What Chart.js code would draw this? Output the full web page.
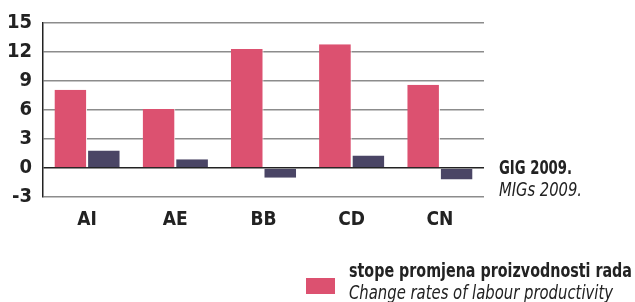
<!DOCTYPE html>
<html>
<head>
<meta charset="utf-8">
<script src="https://cdn.jsdelivr.net/npm/chart.js@4"></script>
<style>
  html, body { margin: 0; padding: 0; background: #fff; }
  #wrap { position: relative; width: 635px; height: 302px; }
</style>
</head>
<body>
<div id="wrap"><canvas id="prodChart" width="635" height="302"></canvas></div>
<script>
// data
const categories = ['AI', 'AE', 'BB', 'CD', 'CN'];
const gigValues = [8.1, 6.1, 12.3, 12.8, 8.6];     // GIG 2009.
const migValues = [1.8, 0.9, -1.0, 1.3, -1.2];     // MIGs 2009.
const yTicks = [-3, 0, 3, 6, 9, 12, 15];

const PINK = '#dc5170';
const NAVY = '#4a4565';
const FONT = '"DejaVu Sans Condensed", "Liberation Sans", sans-serif';

// extra labels: series names next to zero line and the bottom legend
// (maxWidth squeezes the text to the narrow face of the original)
const labelsPlugin = {
    id: 'labels',
    afterDraw(chart) {
        const ctx = chart.ctx;
        const y0 = chart.scales.y.getPixelForValue(0);
        ctx.save();
        ctx.fillStyle = '#222';
        ctx.textBaseline = 'middle';
        ctx.textAlign = 'left';
        ctx.font = 'bold 19px ' + FONT;
        ctx.fillText('GIG 2009.', 499, y0 + 1, 73);
        ctx.font = 'italic 19px ' + FONT;
        ctx.fillText('MIGs 2009.', 499, y0 + 23, 83);

        // legend
        ctx.fillStyle = PINK;
        ctx.fillRect(306, 278, 29, 16);
        ctx.fillStyle = '#222';
        ctx.font = 'bold 19px ' + FONT;
        ctx.fillText('stope promjena proizvodnosti rada', 349, 272, 283);
        ctx.font = 'italic 19px ' + FONT;
        ctx.fillText('Change rates of labour productivity', 349, 294, 264);
        ctx.restore();
    }
};

new Chart(document.getElementById('prodChart'), {
    type: 'bar',
    data: {
        labels: categories,
        datasets: [
            { label: 'GIG 2009.', data: gigValues, backgroundColor: PINK, borderColor: '#fff', borderWidth: { right: 1 }, borderSkipped: false },
            { label: 'MIGs 2009.', data: migValues, backgroundColor: NAVY, borderColor: '#fff', borderWidth: { left: 1 }, borderSkipped: false }
        ]
    },
    options: {
        responsive: false,
        animation: false,
        layout: { padding: { top: 23, right: 151, bottom: 0, left: 0 } },
        datasets: { bar: { categoryPercentage: 0.74, barPercentage: 1.0 } },
        plugins: {
            legend: { display: false },
            tooltip: { enabled: false }
        },
        scales: {
            x: {
                grid: { display: false, drawTicks: false },
                border: { display: false },
                ticks: {
                    color: '#222',
                    font: { family: FONT, size: 19, weight: 'bold' },
                    padding: 12
                },
                afterFit(scale) { scale.height = 105; }
            },
            y: {
                min: -3,
                max: 15,
                afterBuildTicks(scale) { scale.ticks = yTicks.map(v => ({ value: v })); },
                grid: {
                    drawTicks: false,
                    lineWidth: 1.5,
                    color: ctx => ctx.tick && ctx.tick.value === 0 ? '#222' : '#8c8c8c'
                },
                border: { display: true, color: '#222', width: 1.5 },
                ticks: {
                    color: '#222',
                    font: { family: FONT, size: 20, weight: 'bold' },
                    padding: 11
                },
                afterFit(scale) { scale.width = 43; }
            }
        }
    },
    plugins: [labelsPlugin]
});
</script>
</body>
</html>
